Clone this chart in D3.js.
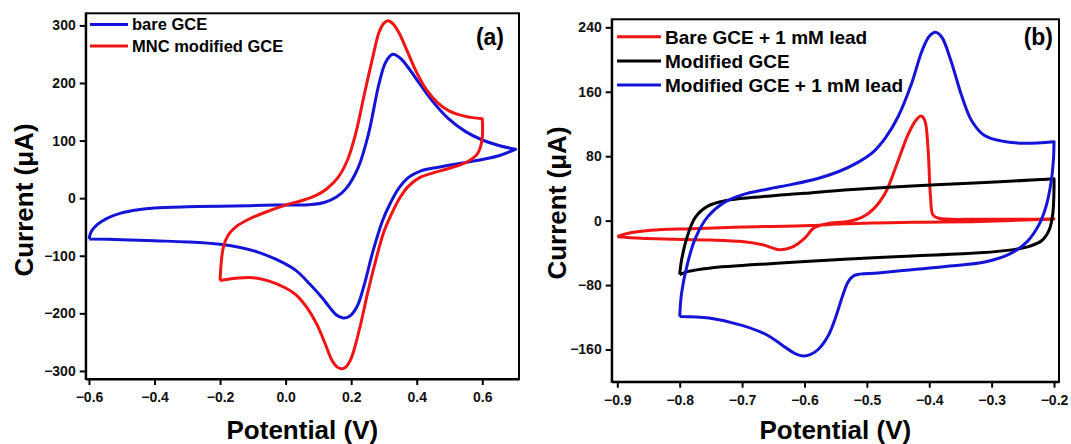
<!DOCTYPE html>
<html>
<head>
<meta charset="utf-8">
<script src="https://cdn.jsdelivr.net/npm/d3@7"></script>
<style>
  body { margin: 0; background: #fff; }
  svg { display: block; font-family: "Liberation Sans", Arial, sans-serif; }
  .tick text { font-size: 14px; font-weight: bold; fill: #111; }
  .domain, .tick line { stroke: #000; stroke-width: 2; }
</style>
</head>
<body>
<div id="chart"></div>
<script>
const W = 1071, H = 444;

// ---- panel (a): [potential V, current uA], each branch in scan order
const bareFwd = [
  [-0.6, -71], [-0.593, -58], [-0.575, -46], [-0.545, -35], [-0.503, -26], [-0.45, -20],
  [-0.4, -17], [-0.3, -15], [-0.2, -14], [-0.03, -12], [0.08, -11], [0.12, -7],
  [0.155, 2], [0.185, 17], [0.222, 54], [0.253, 112], [0.285, 199], [0.306, 237],
  [0.327, 250], [0.35, 243], [0.375, 226], [0.405, 202], [0.443, 172], [0.495, 139],
  [0.548, 116], [0.6, 101], [0.653, 91], [0.702, 85]
];
const bareRev = [
  [0.702, 85], [0.653, 74], [0.6, 67], [0.54, 61], [0.47, 54], [0.411, 47], [0.375, 36],
  [0.345, 17], [0.32, -8], [0.295, -40], [0.265, -95], [0.24, -150], [0.218, -188],
  [0.195, -205], [0.175, -208], [0.155, -203], [0.135, -190], [0.11, -172], [0.075, -150],
  [0.03, -125], [-0.03, -106], [-0.083, -94], [-0.135, -86], [-0.2, -80], [-0.3, -76],
  [-0.4, -74], [-0.5, -72], [-0.6, -71]
];
const mncFwd = [
  [-0.2, -143], [-0.197, -115], [-0.19, -85], [-0.175, -64], [-0.15, -49], [-0.114, -37],
  [-0.06, -24], [0.0, -12], [0.05, -4], [0.09, 4], [0.125, 16], [0.16, 36], [0.19, 68],
  [0.215, 115], [0.24, 180], [0.264, 240], [0.285, 288], [0.3, 304], [0.313, 308],
  [0.327, 303], [0.345, 288], [0.369, 258], [0.4, 218], [0.43, 188], [0.465, 165],
  [0.5, 151], [0.548, 142], [0.6, 138]
];
const mncRev = [
  [0.6, 138], [0.599, 100], [0.585, 77], [0.55, 62], [0.5, 52], [0.45, 44], [0.41, 36],
  [0.375, 21], [0.35, 2], [0.325, -25], [0.3, -58], [0.274, -110], [0.25, -165],
  [0.225, -228], [0.2, -278], [0.182, -294], [0.169, -296], [0.155, -292], [0.14, -280],
  [0.12, -252], [0.096, -220], [0.065, -190], [0.03, -167], [0.0, -156], [-0.05, -144],
  [-0.1, -138], [-0.15, -139], [-0.2, -143]
];

// ---- panel (b)
const bareLeadFwd = [
  [-0.9, -20], [-0.862, -22], [-0.808, -23], [-0.753, -24], [-0.7, -26], [-0.667, -30],
  [-0.64, -36], [-0.62, -33], [-0.6, -22], [-0.585, -9], [-0.565, -4], [-0.53, -1],
  [-0.508, 4], [-0.49, 14], [-0.47, 35], [-0.452, 70], [-0.435, 105], [-0.422, 124],
  [-0.413, 130], [-0.407, 124], [-0.402, 90], [-0.398, 30], [-0.394, 7], [-0.385, 3],
  [-0.32, 1.7], [-0.2, 2]
];
const bareLeadRev = [
  [-0.2, 2], [-0.32, -1], [-0.428, -2], [-0.536, -4], [-0.59, -6], [-0.7, -8],
  [-0.78, -10], [-0.846, -12], [-0.884, -16], [-0.9, -20]
];
const modFwd = [
  [-0.8, -67], [-0.797, -49], [-0.788, -20], [-0.775, 4], [-0.755, 18], [-0.725, 25],
  [-0.68, 29], [-0.6, 34], [-0.536, 38], [-0.428, 43], [-0.319, 47], [-0.222, 51], [-0.2, 52]
];
const modRev = [
  [-0.2, 52], [-0.2, 40], [-0.202, 8], [-0.208, -12], [-0.22, -25], [-0.24, -32],
  [-0.265, -36], [-0.319, -40], [-0.428, -44], [-0.536, -48], [-0.645, -53], [-0.753, -59],
  [-0.786, -63], [-0.8, -67]
];
const modLeadFwd = [
  [-0.8, -119], [-0.797, -90], [-0.788, -55], [-0.775, -22], [-0.755, 5], [-0.73, 22],
  [-0.7, 32], [-0.66, 39], [-0.62, 45], [-0.58, 52], [-0.545, 61], [-0.515, 72],
  [-0.49, 85], [-0.47, 103], [-0.45, 129], [-0.428, 171], [-0.412, 210], [-0.4, 229],
  [-0.39, 234], [-0.38, 228], [-0.365, 198], [-0.348, 155], [-0.332, 124], [-0.312, 106],
  [-0.285, 99], [-0.25, 96], [-0.2, 98]
];
const modLeadRev = [
  [-0.2, 98], [-0.201, 75], [-0.205, 46], [-0.213, 17], [-0.224, -5], [-0.243, -26],
  [-0.27, -41], [-0.309, -51], [-0.374, -57], [-0.428, -61], [-0.482, -65], [-0.52, -68],
  [-0.53, -76], [-0.54, -96], [-0.55, -120], [-0.562, -143], [-0.578, -160], [-0.59, -166],
  [-0.602, -168], [-0.615, -165], [-0.635, -155], [-0.66, -142], [-0.7, -130],
  [-0.753, -121], [-0.8, -119]
];

const xTicksA = [-0.6, -0.4, -0.2, 0.0, 0.2, 0.4, 0.6];
const yTicksA = [-300, -200, -100, 0, 100, 200, 300];
const xTicksB = [-0.9, -0.8, -0.7, -0.6, -0.5, -0.4, -0.3, -0.2];
const yTicksB = [-160, -80, 0, 80, 160, 240];

const namesA = ["bare GCE", "MNC modified GCE"];
const namesB = ["Bare GCE + 1 mM lead", "Modified GCE", "Modified GCE + 1 mM lead"];

const RED = "#f01414", BLUE = "#1414d8", BLACK = "#000";

const svg = d3.select("#chart").append("svg")
  .attr("width", W).attr("height", H);

function panel(cfg) {
  const x = d3.scaleLinear().domain(cfg.xDomain).range([cfg.box.left, cfg.box.right]);
  const y = d3.scaleLinear().domain(cfg.yDomain).range([cfg.box.bottom, cfg.box.top]);
  const g = svg.append("g");

  const line = d3.line().x(d => x(d[0])).y(d => y(d[1])).curve(d3.curveCatmullRom.alpha(0.5));

  cfg.series.forEach(s => {
    // forward scan then reverse scan as one path, sharp join at the turning point
    const p = line(s.fwd) + line(s.rev).replace(/^M/, "L");
    g.append("path")
      .attr("d", p)
      .attr("fill", "none")
      .attr("stroke", s.color)
      .attr("stroke-width", 3)
      .attr("stroke-linejoin", "round");
  });

  // frame
  g.append("rect")
    .attr("x", cfg.box.left).attr("y", cfg.box.top)
    .attr("width", cfg.box.right - cfg.box.left)
    .attr("height", cfg.box.bottom - cfg.box.top)
    .attr("fill", "none").attr("stroke", "#000").attr("stroke-width", 2);

  g.append("g")
    .attr("transform", `translate(0,${cfg.box.bottom})`)
    .call(d3.axisBottom(x).tickValues(cfg.xTicks).tickFormat(d3.format(".1f"))
      .tickSizeInner(6).tickSizeOuter(0).tickPadding(7));

  g.append("g")
    .attr("transform", `translate(${cfg.box.left},0)`)
    .call(d3.axisLeft(y).tickValues(cfg.yTicks).tickFormat(d3.format("d"))
      .tickSizeInner(6).tickSizeOuter(0).tickPadding(4));

  // legend
  cfg.series.forEach((s, i) => {
    const ly = cfg.legend.y + i * cfg.legend.step;
    g.append("line")
      .attr("x1", cfg.legend.x).attr("x2", cfg.legend.x + cfg.legend.len)
      .attr("y1", ly).attr("y2", ly)
      .attr("stroke", s.color).attr("stroke-width", 3);
    g.append("text")
      .attr("x", cfg.legend.x + cfg.legend.len + 4).attr("y", ly)
      .attr("dy", "0.36em")
      .style("font-size", cfg.legend.font + "px").style("font-weight", "bold")
      .text(s.name);
  });

  g.append("text")
    .attr("x", cfg.tag.x).attr("y", cfg.tag.y)
    .attr("text-anchor", "end")
    .style("font-size", "23px").style("font-weight", "bold")
    .text(cfg.tag.text);

  g.append("text")
    .attr("x", (cfg.box.left + cfg.box.right) / 2).attr("y", 439)
    .attr("text-anchor", "middle")
    .style("font-size", "26px").style("font-weight", "bold")
    .text("Potential (V)");

  g.append("text")
    .attr("transform", `translate(${cfg.yTitleX},${cfg.yTitleY}) rotate(-90)`)
    .attr("text-anchor", "middle")
    .style("font-size", "26px").style("font-weight", "bold")
    .text("Current (\u03bcA)");
}

panel({
  box: { left: 85.7, right: 519, top: 13.3, bottom: 379 },
  xDomain: [-0.61, 0.712], yDomain: [-314, 321],
  xTicks: xTicksA, yTicks: yTicksA,
  series: [
    { name: namesA[0], color: BLUE, fwd: bareFwd, rev: bareRev },
    { name: namesA[1], color: RED, fwd: mncFwd, rev: mncRev }
  ],
  legend: { x: 90, y: 24.5, step: 21.5, len: 38, font: 16.5 },
  tag: { x: 504, y: 45, text: "(a)" },
  yTitleX: 33, yTitleY: 200
});

panel({
  box: { left: 611.7, right: 1059, top: 19.3, bottom: 381.7 },
  xDomain: [-0.909, -0.192], yDomain: [-200, 250],
  xTicks: xTicksB, yTicks: yTicksB,
  series: [
    { name: namesB[0], color: RED, fwd: bareLeadFwd, rev: bareLeadRev },
    { name: namesB[1], color: BLACK, fwd: modFwd, rev: modRev },
    { name: namesB[2], color: BLUE, fwd: modLeadFwd, rev: modLeadRev }
  ],
  legend: { x: 617, y: 36.7, step: 24.2, len: 44, font: 19 },
  tag: { x: 1053, y: 45, text: "(b)" },
  yTitleX: 566, yTitleY: 203
});
</script>
</body>
</html>
